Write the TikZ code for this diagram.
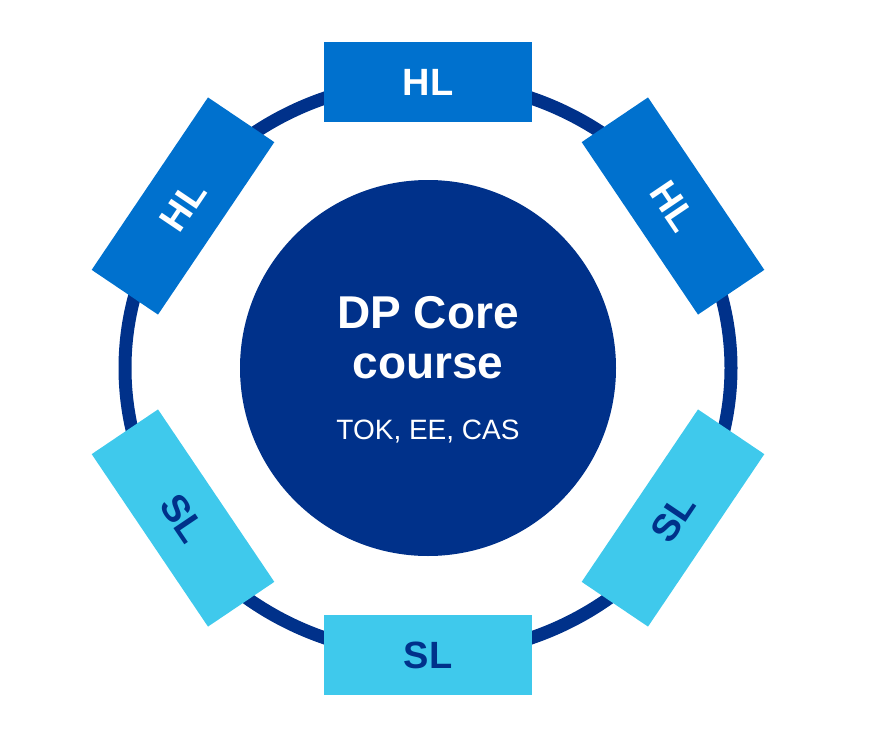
\documentclass[tikz,border=0pt]{standalone}
\usepackage{fontspec}
\setmainfont{Liberation Sans}
\definecolor{navy}{HTML}{00318A}
\definecolor{hlblue}{HTML}{0071CE}
\definecolor{slblue}{HTML}{3FC9EC}
\begin{document}
\begin{tikzpicture}[x=1pt,y=-1pt,
 box/.style={minimum width=208pt,minimum height=80pt,inner sep=0pt,font=\fontsize{38}{38}\selectfont\bfseries},
 hl/.style={box,fill=hlblue,text=white},
 sl/.style={box,fill=slblue,text=navy}]
\useasboundingbox (0,0) rectangle (876,752);
\coordinate (c) at (428,368);
\draw[navy,line width=13pt] (c) ellipse [x radius=303pt, y radius=287pt];
\node[circle,fill=navy,minimum size=376pt,inner sep=0pt] (core) at (c) {};
\node[text=white,font=\fontsize{46}{50}\selectfont\bfseries,align=center] (t1) at (428,338) {DP Core\\course};
\node[text=white,font=\fontsize{28}{28}\selectfont] (t2) at (428,432) {TOK, EE, CAS};
\node[hl] (b1) at (428,82) {HL};
\node[hl,rotate=56] (b2) at (183,206) {HL};
\node[hl,rotate=-56] (b3) at (673,206) {HL};
\node[sl,rotate=-56] (b4) at (183,518) {SL};
\node[sl,rotate=56] (b5) at (673,518) {SL};
\node[sl] (b6) at (428,655) {SL};
\end{tikzpicture}
\end{document}
